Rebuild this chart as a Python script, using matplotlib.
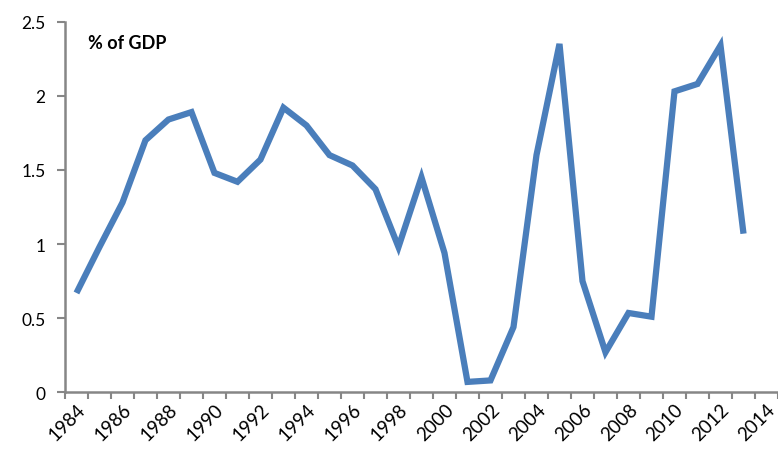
import numpy as np
import matplotlib.pyplot as plt

# years on the category axis (2014 has a label but no value)
years = list(range(1984, 2015))
values = [0.67, 0.98, 1.28, 1.70, 1.84, 1.89, 1.48, 1.42, 1.57, 1.92,
          1.80, 1.60, 1.53, 1.37, 0.98, 1.45, 0.94, 0.07, 0.08, 0.44,
          1.60, 2.35, 0.75, 0.27, 0.535, 0.51, 2.03, 2.08, 2.34, 1.07]
y_ticks = [0, 0.5, 1, 1.5, 2, 2.5]
y_tick_labels = ['0', '0.5', '1', '1.5', '2', '2.5']

plt.rcParams['font.family'] = ['Lato', 'DejaVu Sans']

fig = plt.figure(figsize=(7.78, 4.52), dpi=100)
ax = fig.add_axes([0.0835, 0.1299, 0.9165, 0.8199])

x = np.arange(len(values))
ax.plot(x, values, color='#4a7ebb', linewidth=4.5, solid_joinstyle='miter',
        solid_capstyle='butt')

ax.set_xlim(-0.5, 30.26)
ax.set_ylim(0, 2.5)

# tick marks between categories, labels every second year
axis_grey = '#868686'
ax.set_xticks(np.arange(-0.5, len(years), 1.0))
ax.set_xticklabels([])
ax.set_xticks(np.arange(0, len(years), 2), minor=True)
ax.set_xticklabels([str(y) for y in years[::2]], minor=True, rotation=45,
                   ha='right', va='top', rotation_mode='anchor', fontsize=13.5)
ax.tick_params(axis='x', which='major', length=5, width=1.5, color=axis_grey)
ax.tick_params(axis='x', which='minor', length=0, pad=6)

ax.set_yticks(y_ticks)
ax.set_yticklabels(y_tick_labels, fontsize=12.5)
ax.tick_params(axis='y', length=6, width=1.5, color=axis_grey, pad=8)

for side in ['top', 'right']:
    ax.spines[side].set_visible(False)
for side in ['left', 'bottom']:
    ax.spines[side].set_color(axis_grey)
    ax.spines[side].set_linewidth(1.8)

ax.text(0.5, 2.36, '% of GDP', fontsize=13, fontweight='bold', ha='left',
        va='center')

fig.savefig('out.png', dpi=100)
